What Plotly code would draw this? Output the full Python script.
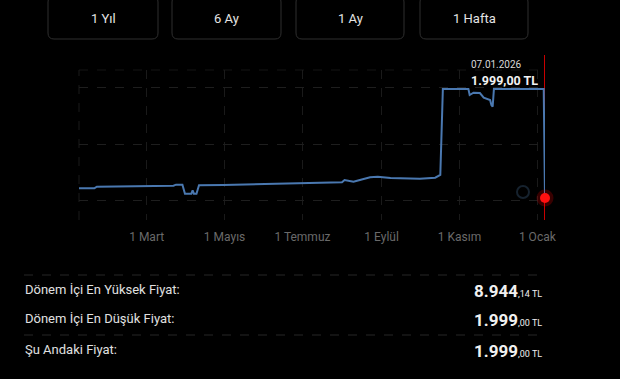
import plotly.graph_objects as go

# ---- data ----
dates = ["2025-01-07", "2025-01-19", "2025-01-21", "2025-02-10", "2025-02-28", "2025-03-10",
         "2025-03-22", "2025-03-24", "2025-03-29", "2025-03-31", "2025-04-05", "2025-04-06",
         "2025-04-07", "2025-04-09", "2025-04-11", "2025-04-30", "2025-05-29", "2025-06-29",
         "2025-07-23", "2025-08-01", "2025-08-03", "2025-08-06", "2025-08-10", "2025-08-15",
         "2025-08-23", "2025-08-29", "2025-09-08", "2025-10-01", "2025-10-13", "2025-10-17",
         "2025-10-19", "2025-11-08", "2025-11-09", "2025-11-12", "2025-11-17", "2025-11-20",
         "2025-11-25", "2025-11-26", "2025-11-27", "2025-11-28", "2026-01-06", "2026-01-07"]
prices = [2619, 2619, 2720, 2750, 2784, 2770,
          2784, 2848, 2848, 2275, 2275, 2491,
          2275, 2275, 2810, 2829, 2900, 2975,
          3001, 3010, 3148, 3100, 3039, 3148,
          3319, 3358, 3275, 3230, 3294, 3466,
          8944, 8944, 8562, 8708, 8689, 8390,
          8243, 7925, 7817, 8944, 8944, 1999]

tick_dates = ["2025-03-01", "2025-05-01", "2025-07-01", "2025-09-01", "2025-11-01", "2026-01-01"]
tick_labels = ["1 Mart", "1 Mayıs", "1 Temmuz", "1 Eylül", "1 Kasım", "1 Ocak"]

buttons = ["1 Yıl", "6 Ay", "1 Ay", "1 Hafta"]

stat_labels = ["Dönem İçi En Yüksek Fiyat:", "Dönem İçi En Düşük Fiyat:", "Şu Andaki Fiyat:"]
stat_int = ["8.944", "1.999", "1.999"]
stat_dec = [",14 TL", ",00 TL", ",00 TL"]

sel_date_label = "07.01.2026"
sel_price_label = "1.999,00 TL"

# ---- geometry helpers (pixel -> paper) ----
W, H = 620, 379
PL, PR, PT, PB = 79, 545, 70, 220


def px(x):
    return (x - PL) / (PR - PL)


def py(y):
    return (PB - y) / (PB - PT)


def rounded_rect(x0, y0, x1, y1, r):
    X0, X1 = px(x0), px(x1)
    Y0, Y1 = py(y0), py(y1)
    rx = r / (PR - PL)
    ry = r / (PB - PT)
    return (f"M {X0+rx},{Y0} L {X1-rx},{Y0} Q {X1},{Y0} {X1},{Y0-ry} "
            f"L {X1},{Y1+ry} Q {X1},{Y1} {X1-rx},{Y1} L {X0+rx},{Y1} "
            f"Q {X0},{Y1} {X0},{Y1+ry} L {X0},{Y0-ry} Q {X0},{Y0} {X0+rx},{Y0} Z")


fig = go.Figure()

fig.add_trace(go.Scatter(x=dates, y=prices, mode="lines", cliponaxis=False,
                         line=dict(color="#4a78b0", width=2), hoverinfo="skip"))

# selected point glow + dot
fig.add_trace(go.Scatter(x=[dates[-1]], y=[prices[-1]], mode="markers", cliponaxis=False,
                         marker=dict(size=17, color="rgba(255,0,0,0.22)"), hoverinfo="skip"))
fig.add_trace(go.Scatter(x=[dates[-1]], y=[prices[-1]], mode="markers", cliponaxis=False,
                         marker=dict(size=10, color="#ff1010"), hoverinfo="skip"))

shapes = []
# red selection line
shapes.append(dict(type="line", xref="x", yref="paper", x0=dates[-1], x1=dates[-1],
                   y0=py(220), y1=py(55), line=dict(color="#c80000", width=2), layer="below"))
# top faint grid line and left line
shapes.append(dict(type="line", xref="paper", yref="paper", x0=0, x1=1, y0=1, y1=1,
                   line=dict(color="#141414", width=1, dash="dash"), layer="below"))
shapes.append(dict(type="line", xref="paper", yref="paper", x0=0, x1=0, y0=0, y1=1,
                   line=dict(color="#1a1a1a", width=1, dash="dash"), layer="below"))
# faint watermark ring
shapes.append(dict(type="circle", xref="paper", yref="paper",
                   x0=px(517), x1=px(529), y0=py(198), y1=py(186),
                   line=dict(color="#16222e", width=2), layer="below"))

# buttons
btn_x = [(48, 158), (172, 281), (296, 404), (420, 528)]
annotations = []
for (x0, x1), label in zip(btn_x, buttons):
    shapes.append(dict(type="path", xref="paper", yref="paper",
                       path=rounded_rect(x0, -4, x1, 39, 6),
                       line=dict(color="#2e2e2e", width=1), fillcolor="rgba(0,0,0,0)"))
    annotations.append(dict(xref="paper", yref="paper", x=px((x0 + x1) / 2), y=py(19),
                            text=label, showarrow=False,
                            font=dict(family="Roboto", size=13, color="#e4e4e4"),
                            xanchor="center", yanchor="middle"))

# tooltip text
annotations.append(dict(xref="paper", yref="paper", x=px(469), y=py(65), text=sel_date_label,
                        showarrow=False, xanchor="left", yanchor="middle",
                        font=dict(family="Roboto", size=10, color="#d8d8d8")))
annotations.append(dict(xref="paper", yref="paper", x=px(469), y=py(80),
                        text=f"<b>{sel_price_label}</b>",
                        showarrow=False, xanchor="left", yanchor="middle",
                        font=dict(family="Roboto", size=12.5, color="#f2f2f2")))

# stats table
for ysep in (275, 335):
    shapes.append(dict(type="line", xref="paper", yref="paper", x0=px(24), x1=px(543),
                       y0=py(ysep), y1=py(ysep),
                       line=dict(color="#262626", width=1, dash="dash")))
row_y = [289, 318, 349]
for yy, lab, vi, vd in zip(row_y, stat_labels, stat_int, stat_dec):
    annotations.append(dict(xref="paper", yref="paper", x=px(23), y=py(yy), text=lab,
                            showarrow=False, xanchor="left", yanchor="middle",
                            font=dict(family="Roboto", size=13, color="#e0e0e0")))
    annotations.append(dict(xref="paper", yref="paper", x=px(544), y=py(yy + 2),
                            text=f"<b>{vi}</b><span style='font-size:9px'>{vd}</span>",
                            showarrow=False, xanchor="right", yanchor="middle",
                            font=dict(family="Roboto", size=17, color="#f0f0f0")))

fig.update_layout(
    width=W, height=H,
    margin=dict(l=PL, r=W - PR, t=PT, b=H - PB),
    paper_bgcolor="#000000", plot_bgcolor="#000000",
    showlegend=False,
    shapes=shapes, annotations=annotations,
    xaxis=dict(range=["2025-01-07", "2026-01-07"], tickvals=tick_dates, ticktext=tick_labels,
               showgrid=True, gridcolor="#1a1a1a", griddash="dash", gridwidth=1,
               zeroline=False, showline=False, ticks="", ticklabelstandoff=8,
               tickfont=dict(family="Roboto", size=12, color="#6a6a6a"), fixedrange=True),
    yaxis=dict(range=[599, 10154], tickvals=[1810, 5390, 9010], showticklabels=False,
               showgrid=True, gridcolor="#1e1e1e", griddash="dash", gridwidth=1,
               zeroline=False, showline=False, ticks="", fixedrange=True),
)

fig.write_html("out.html", config={"displayModeBar": False},
               post_script="document.body.style.margin='0';document.body.style.background='#000';")
